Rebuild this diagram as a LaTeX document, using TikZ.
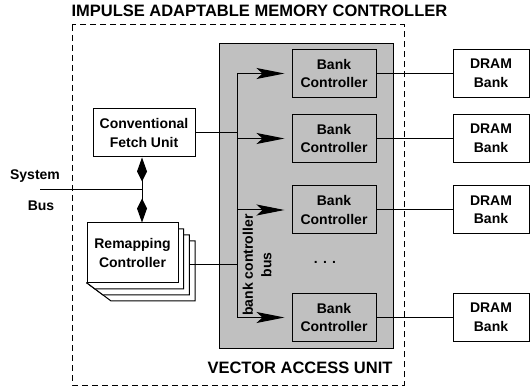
\documentclass[tikz,border=0pt]{standalone}
\usepackage{fontspec}
\setmainfont{Liberation Sans}
\usetikzlibrary{arrows.meta, calc}
\definecolor{vaugray}{RGB}{192,192,192}
\tikzset{textfont/.style={font=\bfseries\fontsize{14}{18.5}\selectfont}}
\tikzset{heading/.style={font=\bfseries\fontsize{16.5}{20}\selectfont, inner sep=0pt}}
\tikzset{unitbox/.style={draw, line width=1pt, fill=white, align=center, textfont, inner sep=0pt}}
\tikzset{bankbox/.style={unitbox, fill=vaugray, minimum width=84pt, minimum height=48pt}}
\tikzset{drambox/.style={unitbox, minimum width=76pt, minimum height=48pt}}
\tikzset{busarrow/.style={-{Stealth[length=28pt, width=11pt, inset=6pt]}, shorten >=7pt}}
\tikzset{bothway/.style={{Kite[length=24pt, width=10pt, inset=10pt]}-{Kite[length=24pt, width=10pt, inset=10pt]}}}

\begin{document}
\begin{tikzpicture}[x=1pt, y=-1pt, line width=1pt]
  \useasboundingbox (0,0) rectangle (530,387);
  \node[heading, anchor=west] (title) at (71,11) {IMPULSE ADAPTABLE MEMORY CONTROLLER};
  \draw[dash pattern=on 6pt off 4pt] (72,25) rectangle (404,385);
  % vector access unit
  \draw[fill=vaugray] (219,44) rectangle (393,348);
  \node[heading] (vau) at (300,368) {VECTOR ACCESS UNIT};
  \coordinate (bus) at (237,0);
  \foreach \i/\y in {1/73.5, 2/138.5, 3/210, 4/317.5} {
    \node[bankbox] (bc\i) at (334,\y) {Bank\\Controller};
    \node[drambox] (dram\i) at (491,\y) {DRAM\\Bank};
    \draw (bc\i) -- (dram\i);
    \draw[busarrow] (bc\i.west -| bus) -- (bc\i.west);
  }
  \draw (bc1.west -| bus) -- (bc4.west -| bus);
  \node[textfont, rotate=90, align=center] (bcbus) at (257,265) {bank controller\\bus};
  \node[textfont] (dots) at (325,262) {. . .};
  % fetch unit and remapping controllers
  \node[unitbox, minimum width=102pt, minimum height=48pt] (cfu) at (144,133) {Conventional\\Fetch Unit};
  \draw (cfu) -- (cfu -| bus);
  \foreach \k in {3,2,1} {
    \filldraw[fill=white] (87,283) -- ++(8*\k,6*\k) -| (178+5.67*\k,223+6*\k) -- (170,223+6*\k) -- cycle;
  }
  \node[unitbox, minimum width=91pt, minimum height=60pt] (rc) at (132.5,253) {Remapping\\Controller};
  \coordinate (rcback) at (189,265);
  \draw (rcback) -- (rcback -| bus);
  % system bus
  \coordinate (sb) at (142,190);
  \coordinate (sysin) at (40,190);
  \draw (sysin) -- (sb);
  \draw[bothway] (cfu.south -| sb) -- (rc.north -| sb);
  \node[textfont] (system) at (35,176) {System};
  \node[textfont] (sysbus) at (41,206) {Bus};
\end{tikzpicture}
\end{document}
